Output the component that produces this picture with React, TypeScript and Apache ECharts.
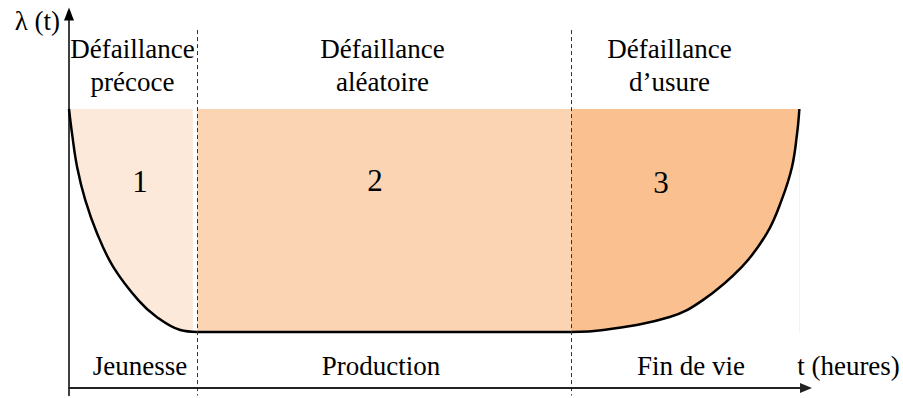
import React, { useEffect, useRef } from 'react';
import * as echarts from 'echarts';

// ---- data (t and λ in arbitrary units) ----
const curveT = [0, 0.4, 1.1, 2.2, 3.8, 6.0, 9.4, 11.9, 15.1, 17.4, 68.1, 72.5, 81.5, 86.0, 91.3, 94.7, 96.7, 98.1, 98.8, 99.1];
const curveLambda = [74.6, 68.2, 59.1, 50.3, 41.4, 32.4, 23.5, 19.0, 15.5, 15.0, 15.0, 15.5, 19.0, 23.5, 32.4, 41.4, 50.3, 59.1, 68.2, 74.6];
const zoneStart = [0, 17.4, 68.1];
const zoneEnd = [16.8, 68.1, 99.1];
const zoneTop = 74.6;
const zoneFloor = 15.0;
const phaseBoundaries = [17.4, 68.1];
const boundaryTop = 95.7;
const zoneNumbers = ['1', '2', '3'];
const failureLabels = ['Défaillance\nprécoce', 'Défaillance\naléatoire', 'Défaillance\nd’usure'];
const phaseLabels = ['Jeunesse', 'Production', 'Fin de vie'];
const yAxisTitle = 'λ (t)';
const xAxisTitle = 't (heures)';

// ---- styles / layout ----
const zoneColors = ['#FDE9D9', '#FBD4B4', '#FAC08F'];
const FONT = 'Liberation Serif';
const TEXT = '#000';
const layout = {
  failureX: [132.5, 382.5, 669.5],
  failureY: 65.5,
  numberPos: [[140, 181], [375, 180], [661, 182]],
  phaseX: [140, 381, 691],
  phaseY: 366,
  xTitle: [848.5, 366],
  yTitle: [60, 21],
};

export default function App() {
  const ref = useRef<HTMLDivElement>(null);

  useEffect(() => {
    if (!ref.current) return;
    const chart = echarts.init(ref.current, undefined, { renderer: 'svg' });

    const txt = (text: string, x: number, y: number, fontSize: number, align = 'center', lineHeight?: number) => ({
      type: 'text', x, y, silent: true, z: 50,
      style: {
        text, fontFamily: FONT, fontSize,
        lineHeight, fill: TEXT, align, verticalAlign: 'middle',
      },
    });

    const graphic: any[] = [];
    graphic.push(txt(yAxisTitle, layout.yTitle[0], layout.yTitle[1], 27, 'right'));
    graphic.push(txt(xAxisTitle, layout.xTitle[0], layout.xTitle[1], 27));
    failureLabels.forEach((t, i) => graphic.push(txt(t, layout.failureX[i], layout.failureY, 27, 'center', 33)));
    zoneNumbers.forEach((t, i) => graphic.push(txt(t, layout.numberPos[i][0], layout.numberPos[i][1], 31)));
    phaseLabels.forEach((t, i) => graphic.push(txt(t, layout.phaseX[i], layout.phaseY, 27)));

    const axisCommon = {
      type: 'value' as const,
      z: 10,
      splitLine: { show: false },
      axisTick: { show: false },
      axisLabel: { show: false },
    };

    chart.setOption({
      animation: false,
      grid: { left: 69, right: 97, top: 14, bottom: 2.52, containLabel: false },
      xAxis: {
        ...axisCommon, min: 0, max: 100,
        axisLine: { show: true, onZero: true, symbol: ['none', 'triangle'], symbolSize: [10, 12], lineStyle: { color: '#222', width: 1.8 } },
      },
      yAxis: {
        ...axisCommon, min: -2, max: 100,
        axisLine: { show: true, onZero: true, symbol: ['none', 'triangle'], symbolSize: [10, 13], lineStyle: { color: '#000', width: 1.5 } },
      },
      series: [
        {
          name: 'zones', type: 'line', z: 1, data: [], silent: true,
          markArea: {
            silent: true,
            label: { show: false },
            data: zoneStart.map((s, i) => [
              { coord: [s, zoneFloor], itemStyle: { color: zoneColors[i], opacity: 1 } },
              { coord: [zoneEnd[i], zoneTop] },
            ]),
          },
        },
        {
          name: 'λ(t)', type: 'line', z: 3, silent: true,
          data: curveT.map((t, i) => [t, curveLambda[i]]),
          showSymbol: false, symbol: 'none', smooth: 0.4,
          lineStyle: { color: '#000', width: 2.5 },
          areaStyle: { color: '#fff', opacity: 1 },
        },
        {
          name: 'phases', type: 'line', z: 5, data: [], silent: true,
          markLine: {
            silent: true, symbol: ['none', 'none'],
            label: { show: false },
            lineStyle: { color: '#333', width: 1, type: [4, 3] },
            data: phaseBoundaries.map((b) => [{ coord: [b, boundaryTop] }, { coord: [b, -2] }]),
          },
        },
      ],
      graphic,
    });

    return () => chart.dispose();
  }, []);

  return <div ref={ref} style={{ position: 'fixed', left: 0, top: 0, width: 903, height: 398, background: '#fff' }} />;
}
